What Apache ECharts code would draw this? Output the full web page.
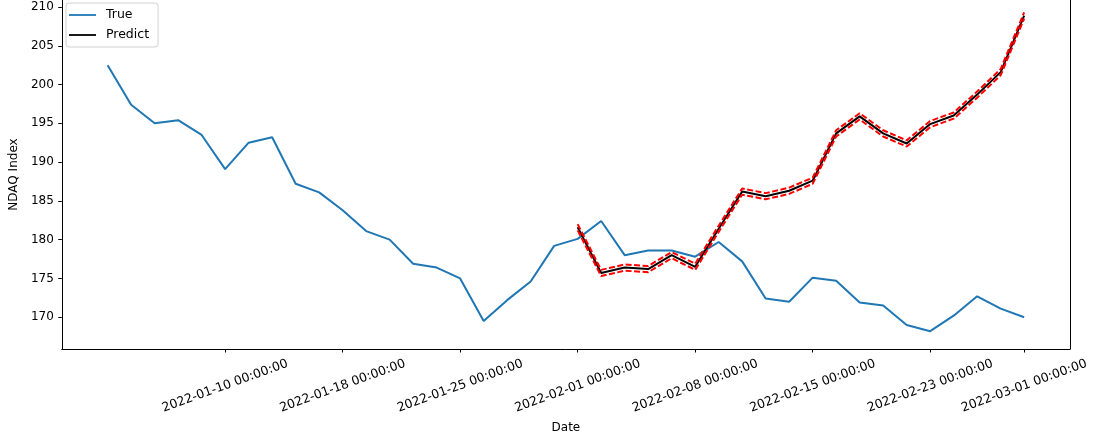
<!DOCTYPE html>
<html>
<head>
<meta charset="utf-8">
<script src="https://cdn.jsdelivr.net/npm/echarts@6/dist/echarts.min.js"></script>
<style>
html,body{margin:0;padding:0;background:#fff;}
#chart{width:1095px;height:439px;}
</style>
</head>
<body>
<div id="chart"></div>
<script>
// Trading days (x categories, by position index)
const dates = [
  '2022-01-03','2022-01-04','2022-01-05','2022-01-06','2022-01-07',
  '2022-01-10','2022-01-11','2022-01-12','2022-01-13','2022-01-14',
  '2022-01-18','2022-01-19','2022-01-20','2022-01-21','2022-01-24',
  '2022-01-25','2022-01-26','2022-01-27','2022-01-28','2022-01-31',
  '2022-02-01','2022-02-02','2022-02-03','2022-02-04','2022-02-07',
  '2022-02-08','2022-02-09','2022-02-10','2022-02-11','2022-02-14',
  '2022-02-15','2022-02-16','2022-02-17','2022-02-18','2022-02-22',
  '2022-02-23','2022-02-24','2022-02-25','2022-02-28','2022-03-01'
];
// True NDAQ index values
const trueValues = [
  202.5, 197.4, 195.0, 195.4, 193.5,
  189.1, 192.5, 193.2, 187.2, 186.1,
  183.8, 181.1, 180.0, 176.9, 176.4,
  175.0, 169.5, 172.2, 174.6, 179.2,
  180.1, 182.4, 178.0, 178.6, 178.6,
  177.8, 179.7, 177.2, 172.4, 172.0,
  175.1, 174.7, 171.9, 171.5, 169.0,
  168.2, 170.2, 172.7, 171.1, 170.0
];
// Prediction starts at this index (2022-02-01)
const predictStart = 20;
const predictValues = [
  181.6, 175.7, 176.4, 176.2, 178.0,
  176.5, 181.4, 186.2, 185.6, 186.3,
  187.6, 193.7, 195.9, 193.7, 192.4,
  194.9, 196.0, 198.7, 201.6, 208.9
];
const upperValues = [
  182.0, 176.1, 176.8, 176.6, 178.4,
  176.9, 181.8, 186.6, 186.0, 186.7,
  188.0, 194.1, 196.3, 194.1, 192.8,
  195.3, 196.4, 199.1, 202.0, 209.3
];
const lowerValues = [
  181.2, 175.3, 176.0, 175.8, 177.6,
  176.1, 181.0, 185.8, 185.2, 185.9,
  187.2, 193.3, 195.5, 193.3, 192.0,
  194.5, 195.6, 198.3, 201.2, 208.5
];
// Tick positions (indices) and y ticks
const xTickIdx = [5, 10, 15, 20, 25, 30, 35, 39];
const yTicks = [170, 175, 180, 185, 190, 195, 200, 205, 210];

const FONT = 'DejaVu Sans';
const toPairs = (arr, start) => arr.map((v, i) => [start + i, v]);

const chart = echarts.init(document.getElementById('chart'), null, {renderer: 'canvas'});
chart.setOption({
  animation: false,
  backgroundColor: '#fff',
  textStyle: {fontFamily: FONT},
  grid: {left: 60, right: 25, top: 0, bottom: 89, show: false},
  legend: {
    left: 66, top: 3, orient: 'vertical',
    data: ['True', 'Predict'],
    icon: 'rect', itemWidth: 27, itemHeight: 1.8, itemGap: 6,
    padding: [5, 9, 5, 3],
    borderColor: '#d0d0d0', borderWidth: 1, borderRadius: 3,
    backgroundColor: 'rgba(255,255,255,0.8)',
    textStyle: {fontFamily: FONT, fontSize: 12.5, color: '#000', lineHeight: 14, padding: [0, 0, 0, 5]}
  },
  xAxis: {
    type: 'value', min: -1.95, max: 40.95,
    name: 'Date', nameLocation: 'middle', nameGap: 73,
    nameTextStyle: {fontFamily: FONT, fontSize: 12, color: '#000'},
    axisLine: {show: true, onZero: false, lineStyle: {color: '#000', width: 1}},
    axisTick: {show: true, length: 3.5, lineStyle: {color: '#000'}, customValues: xTickIdx},
    axisLabel: {
      customValues: xTickIdx, rotate: 20, align: 'center', verticalAlign: 'middle', margin: 37,
      fontFamily: FONT, fontSize: 12.5, color: '#000',
      formatter: v => dates[Math.round(v)] + ' 00:00:00'
    },
    splitLine: {show: false}
  },
  yAxis: [{
    type: 'value', min: 165.9, max: 210.9,
    name: 'NDAQ Index', nameLocation: 'middle', nameGap: 39,
    nameTextStyle: {fontFamily: FONT, fontSize: 12, color: '#000'},
    axisLine: {show: true, onZero: false, lineStyle: {color: '#000', width: 1}},
    axisTick: {show: true, length: 3.5, lineStyle: {color: '#000'}, customValues: yTicks},
    axisLabel: {customValues: yTicks, margin: 8, fontFamily: FONT, fontSize: 12, color: '#000'},
    splitLine: {show: false}
  }, {
    type: 'value', min: 165.9, max: 210.9, position: 'right',
    axisLine: {show: true, onZero: false, lineStyle: {color: '#000', width: 1}},
    axisTick: {show: false}, axisLabel: {show: false}, splitLine: {show: false}
  }],
  series: [
    {name: 'True', type: 'line', data: toPairs(trueValues, 0), showSymbol: false,
     lineStyle: {color: '#1f77b4', width: 2}, itemStyle: {color: '#1f77b4'}, z: 2},
    {name: 'Predict', type: 'line', data: toPairs(predictValues, predictStart), showSymbol: false,
     lineStyle: {color: '#000', width: 2}, itemStyle: {color: '#000'}, z: 3},
    {name: 'Upper', type: 'line', data: toPairs(upperValues, predictStart), showSymbol: false,
     lineStyle: {color: '#ff0000', width: 2, type: [6, 2.5]}, itemStyle: {color: '#ff0000'}, z: 4},
    {name: 'Lower', type: 'line', data: toPairs(lowerValues, predictStart), showSymbol: false,
     lineStyle: {color: '#ff0000', width: 2, type: [6, 2.5]}, itemStyle: {color: '#ff0000'}, z: 4}
  ]
});
</script>
</body>
</html>
